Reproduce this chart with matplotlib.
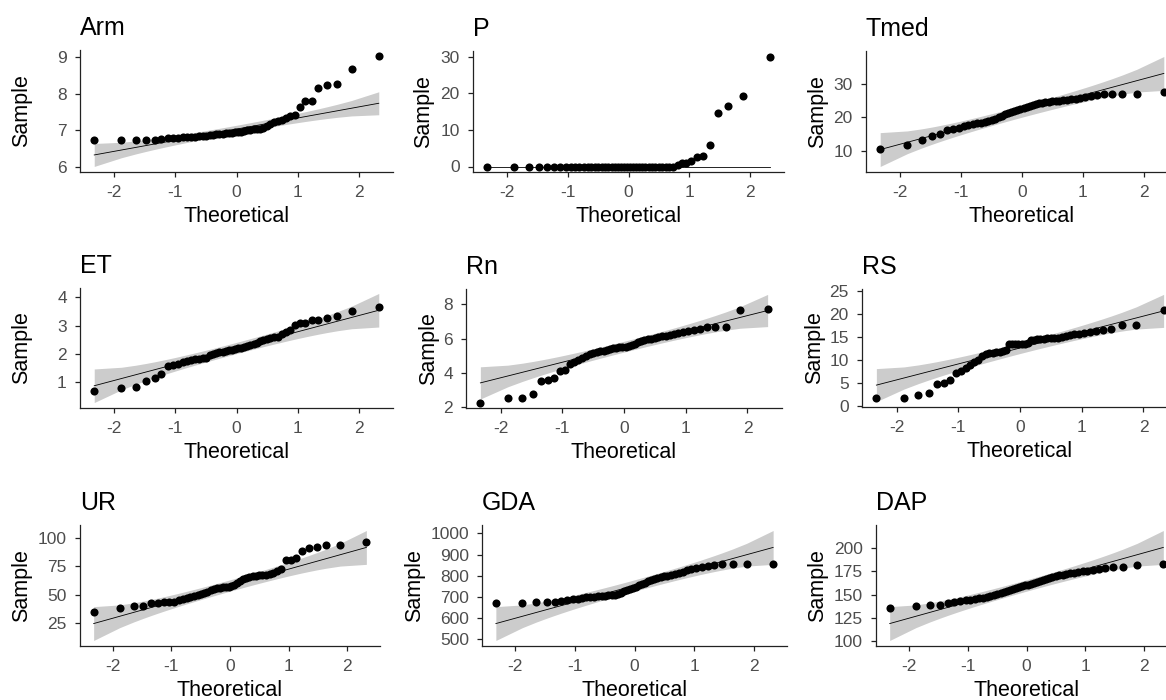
import statistics

import matplotlib
matplotlib.use("Agg")
from matplotlib import pyplot as plt
import numpy as np

plt.rcParams["font.family"] = ["Liberation Sans", "DejaVu Sans"]
plt.rcParams["axes.unicode_minus"] = False

# sorted sample values, 50 observations per variable
arm = [6.75, 6.75, 6.75, 6.75, 6.75, 6.78, 6.80, 6.80, 6.80, 6.81,
       6.82, 6.82, 6.83, 6.84, 6.85, 6.86, 6.87, 6.88, 6.90, 6.90,
       6.91, 6.92, 6.93, 6.94, 6.95, 6.96, 6.97, 6.98, 7.00, 7.02,
       7.03, 7.05, 7.05, 7.08, 7.12, 7.18, 7.22, 7.25, 7.30, 7.35,
       7.40, 7.42, 7.63, 7.80, 7.80, 8.17, 8.25, 8.28, 8.67, 9.05]
p = [0, 0, 0, 0, 0, 0, 0, 0, 0, 0,
     0, 0, 0, 0, 0, 0, 0, 0, 0, 0,
     0, 0, 0, 0, 0, 0, 0, 0, 0, 0,
     0, 0, 0, 0, 0, 0, 0, 0, 0, 0.5,
     0.9, 1.0, 1.6, 2.6, 2.9, 5.9, 14.6, 16.6, 19.1, 30.0]
tmed = [10.4, 11.7, 13.3, 14.3, 14.8, 16.1, 16.4, 16.8, 17.2, 17.5,
        17.8, 18.1, 18.3, 18.6, 18.9, 19.2, 19.5, 19.9, 20.4, 20.8,
        21.1, 21.5, 21.9, 22.2, 22.5, 22.8, 23.0, 23.3, 23.6, 23.9,
        24.1, 24.3, 24.5, 24.6, 24.7, 24.8, 24.9, 25.0, 25.1, 25.3,
        25.4, 25.6, 25.9, 26.2, 26.5, 26.8, 27.0, 27.0, 27.0, 27.4]
et = [0.70, 0.80, 0.85, 1.05, 1.15, 1.30, 1.56, 1.60, 1.65, 1.72,
      1.77, 1.80, 1.82, 1.84, 1.85, 1.87, 1.95, 2.00, 2.03, 2.06,
      2.08, 2.10, 2.13, 2.15, 2.17, 2.20, 2.22, 2.25, 2.28, 2.31,
      2.35, 2.40, 2.44, 2.50, 2.53, 2.56, 2.58, 2.60, 2.70, 2.78,
      2.85, 3.02, 3.08, 3.10, 3.18, 3.18, 3.27, 3.34, 3.52, 3.64]
rn = [2.26, 2.52, 2.52, 2.79, 3.51, 3.59, 3.67, 4.10, 4.18, 4.50,
      4.64, 4.76, 4.88, 5.00, 5.08, 5.14, 5.20, 5.25, 5.30, 5.34,
      5.38, 5.42, 5.45, 5.48, 5.50, 5.52, 5.56, 5.61, 5.70, 5.79,
      5.86, 5.91, 5.96, 6.00, 6.05, 6.09, 6.12, 6.14, 6.20, 6.26,
      6.33, 6.37, 6.42, 6.50, 6.57, 6.66, 6.66, 6.66, 7.67, 7.75]
rs = [1.7, 1.7, 2.35, 2.7, 4.7, 4.9, 5.5, 7.0, 7.5, 8.1,
      8.8, 9.4, 10.0, 10.8, 11.2, 11.4, 11.55, 11.6, 11.75, 11.9,
      12.1, 13.4, 13.45, 13.45, 13.45, 13.5, 13.5, 13.7, 14.2, 14.35,
      14.4, 14.45, 14.55, 14.62, 14.7, 14.75, 14.82, 14.9, 15.1, 15.3,
      15.5, 15.65, 15.8, 15.95, 16.2, 16.5, 16.7, 17.5, 17.5, 20.8]
ur = [34.7, 38.8, 39.9, 40.5, 42.8, 43.1, 43.4, 43.4, 44.0, 45.4,
      46.3, 46.8, 48.3, 48.9, 49.7, 50.3, 51.2, 52.6, 54.0, 54.9,
      55.5, 56.0, 56.6, 56.9, 57.2, 57.8, 58.9, 60.7, 62.1, 63.5,
      64.7, 65.6, 66.4, 66.8, 67.2, 67.4, 67.6, 67.8, 69.3, 70.5,
      72.2, 80.5, 80.8, 82.0, 88.3, 91.2, 92.0, 93.5, 93.5, 95.8]
gda = [673, 673, 678, 678, 678, 681, 684, 688, 691, 694,
       697, 699, 701, 703, 704, 705, 707, 708, 710, 713,
       718, 726, 733, 738, 742, 748, 754, 760, 767, 774,
       780, 785, 790, 795, 798, 800, 803, 807, 814, 820,
       826, 832, 838, 843, 848, 851, 854, 854, 854, 854]
dap = [135.4, 137.1, 138.9, 138.9, 140.6, 142.3, 143.0, 143.7, 144.4, 145.1,
       145.8, 146.5, 147.6, 148.4, 149.3, 150.3, 151.4, 152.4, 153.5, 154.5,
       155.6, 156.6, 157.7, 158.7, 159.8, 160.8, 161.8, 162.9, 163.9, 165.0,
       166.0, 167.1, 168.1, 169.0, 169.9, 170.6, 171.2, 171.8, 172.8, 173.7,
       174.4, 175.1, 175.8, 176.8, 177.9, 178.9, 180.0, 180.2, 181.7, 183.4]

names = ["Arm", "P", "Tmed", "ET", "Rn", "RS", "UR", "GDA", "DAP"]
samples = [arm, p, tmed, et, rn, rs, ur, gda, dap]
x_ticks = [-2, -1, 0, 1, 2]
y_ticks = [
    [6, 7, 8, 9],
    [0, 10, 20, 30],
    [10, 20, 30],
    [1, 2, 3, 4],
    [2, 4, 6, 8],
    [0, 5, 10, 15, 20, 25],
    [25, 50, 75, 100],
    [500, 600, 700, 800, 900, 1000],
    [100, 125, 150, 175, 200],
]

W, H = 1166, 700
# panel boxes in pixels: left, top, right, bottom
boxes = [
    (80, 50, 393, 172), (473, 51, 784, 172), (866, 51, 1178, 172),
    (80, 288, 393, 408), (466, 289, 782, 408), (862, 289, 1178, 407),
    (80, 525, 380, 646), (482, 525, 787, 646), (876, 525, 1177, 646),
]
ylab_x = [22, 424, 818, 22, 429, 815, 22, 415, 818]

norm = statistics.NormalDist()


def qq_stats(values, level=0.95):
    """Theoretical quantiles, quartile line and pointwise confidence band."""
    y = np.sort(np.asarray(values, dtype=float))
    n = y.size
    probs = (np.arange(1, n + 1) - 0.5) / n
    z = np.array([norm.inv_cdf(pr) for pr in probs])
    q1, q3 = np.quantile(y, [0.25, 0.75])
    z1, z3 = norm.inv_cdf(0.25), norm.inv_cdf(0.75)
    slope = (q3 - q1) / (z3 - z1)
    intercept = q1 - slope * z1
    fit = intercept + slope * z
    dens = np.array([norm.pdf(v) for v in z])
    se = slope / dens * np.sqrt(probs * (1 - probs) / n)
    zz = norm.inv_cdf(1 - (1 - level) / 2)
    return z, y, fit, fit - zz * se, fit + zz * se


fig = plt.figure(figsize=(W / 100, H / 100), dpi=100)

for name, values, ticks, box, lx in zip(names, samples, y_ticks, boxes, ylab_x):
    left, top, right, bottom = box
    ax = fig.add_axes([left / W, 1 - bottom / H, (right - left) / W, (bottom - top) / H])
    z, y, fit, lower, upper = qq_stats(values)

    ax.fill_between(z, lower, upper, color="black", alpha=0.2, linewidth=0)
    ax.plot(z, fit, color="black", linewidth=0.6)
    ax.scatter(z, y, s=34, color="black", linewidths=0, zorder=3)

    xpad = 0.05 * (z.max() - z.min())
    ax.set_xlim(z.min() - xpad, z.max() + xpad)
    ylo = min(y.min(), lower.min())
    yhi = max(y.max(), upper.max())
    ypad = 0.05 * (yhi - ylo)
    ax.set_ylim(ylo - ypad, yhi + ypad)
    ax.set_xticks(x_ticks)
    ax.set_yticks(ticks)

    for side in ("top", "right"):
        ax.spines[side].set_visible(False)
    for side in ("left", "bottom"):
        ax.spines[side].set_linewidth(0.9)
        ax.spines[side].set_color("#222222")
    ax.tick_params(length=3.5, width=0.9, color="#222222", labelsize=12.5,
                   labelcolor="#4d4d4d", pad=6)

    ax.set_title(name, loc="left", fontsize=18, pad=11)
    ax.set_xlabel("Theoretical", fontsize=15.5, labelpad=4)
    fig.text(lx / W, 1 - (top + bottom) / 2 / H, "Sample", rotation=90,
             ha="center", va="center", fontsize=15.5)

fig.savefig("out.png", dpi=100)
